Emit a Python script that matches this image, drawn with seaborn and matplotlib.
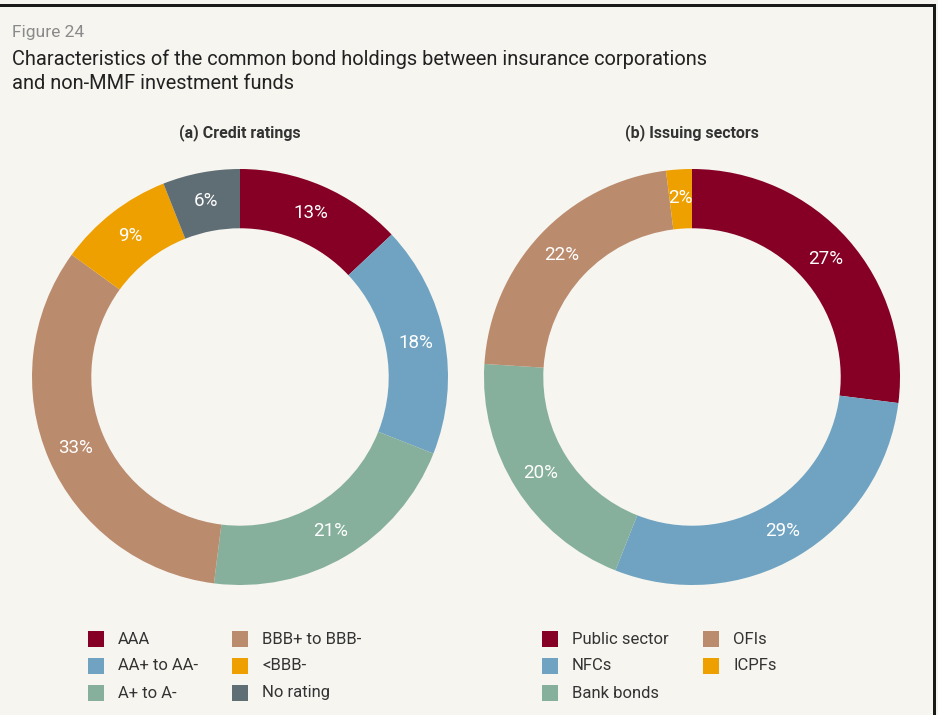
import matplotlib
matplotlib.use("Agg")
import matplotlib.pyplot as plt
from matplotlib.patches import Rectangle
import seaborn as sns

# ---- data ----
rating_labels = ["AAA", "AA+ to AA-", "A+ to A-", "BBB+ to BBB-", "<BBB-", "No rating"]
rating_values = [13, 18, 21, 33, 9, 6]
sector_labels = ["Public sector", "NFCs", "Bank bonds", "OFIs", "ICPFs"]
sector_values = [27, 29, 20, 22, 2]

rating_colors = ["#850024", "#6fa3c1", "#86b09b", "#bb8b6e", "#eea000", "#5f6d75"]
sector_colors = ["#850024", "#6fa3c1", "#86b09b", "#bb8b6e", "#eea000"]

panel_titles = ["(a) Credit ratings", "(b) Issuing sectors"]
fig_label = "Figure 24"
fig_title = "Characteristics of the common bond holdings between insurance corporations\nand non-MMF investment funds"

sns.set_theme(style="white")
plt.rcParams["font.family"] = ["Roboto", "DejaVu Sans"]

BG = "#f6f5f0"
W, H = 938, 715
fig = plt.figure(figsize=(W / 100, H / 100), dpi=100, facecolor=BG)

def px_axes(cx, cy, r):
    return fig.add_axes([(cx - r) / W, 1 - (cy + r) / H, 2 * r / W, 2 * r / H])

R = 208
centers = [(240, 377), (692, 377)]
datasets = [(rating_values, rating_colors), (sector_values, sector_colors)]

for (cx, cy), (vals, cols), title in zip(centers, datasets, panel_titles):
    ax = px_axes(cx, cy, R)
    ax.set_facecolor(BG)
    wedges, texts, autotexts = ax.pie(
        vals, colors=cols, startangle=90, counterclock=False, radius=1,
        wedgeprops=dict(width=0.285, linewidth=0),
        autopct=lambda p: f"{p:.0f}%", pctdistance=0.86,
        textprops=dict(color="white", fontsize=13.5),
    )
    ax.set_xlim(-1, 1)
    ax.set_ylim(-1, 1)
    ax.axis("off")
    fig.text(cx / W, 1 - 133 / H, title, ha="center", va="center",
             fontsize=11.5, fontweight="bold", color="#333333")

# header
fig.text(12 / W, 1 - 32 / H, fig_label, ha="left", va="center", fontsize=12.5,
         color="#8a8a8a")
fig.text(12 / W, 1 - 71 / H, fig_title, ha="left", va="center", fontsize=14.4,
         color="#222222", linespacing=1.36)

# frame
fig.add_artist(Rectangle((0, 1 - 7 / H), 936 / W, 3 / H, transform=fig.transFigure,
                         color="#1a1a1a", lw=0))
fig.add_artist(Rectangle((933 / W, 0), 3 / W, 1 - 4 / H, transform=fig.transFigure,
                         color="#1a1a1a", lw=0))

# legends
def draw_legend(labels, colors, col_x, text_dx):
    rows = [639, 666, 693]
    for i, (lab, col) in enumerate(zip(labels, colors)):
        c, r = divmod(i, 3)
        x0 = col_x[c]
        y = rows[r]
        fig.add_artist(Rectangle((x0 / W, 1 - (y + 8) / H), 16 / W, 16 / H,
                                 transform=fig.transFigure, color=col, lw=0))
        fig.text((x0 + text_dx) / W, 1 - y / H, lab, ha="left", va="center",
                 fontsize=12, color="#333333")

draw_legend(rating_labels, rating_colors, [88, 232], 30)
draw_legend(sector_labels, sector_colors, [542, 703], 30)

fig.savefig("out.png", dpi=100, facecolor=BG)
